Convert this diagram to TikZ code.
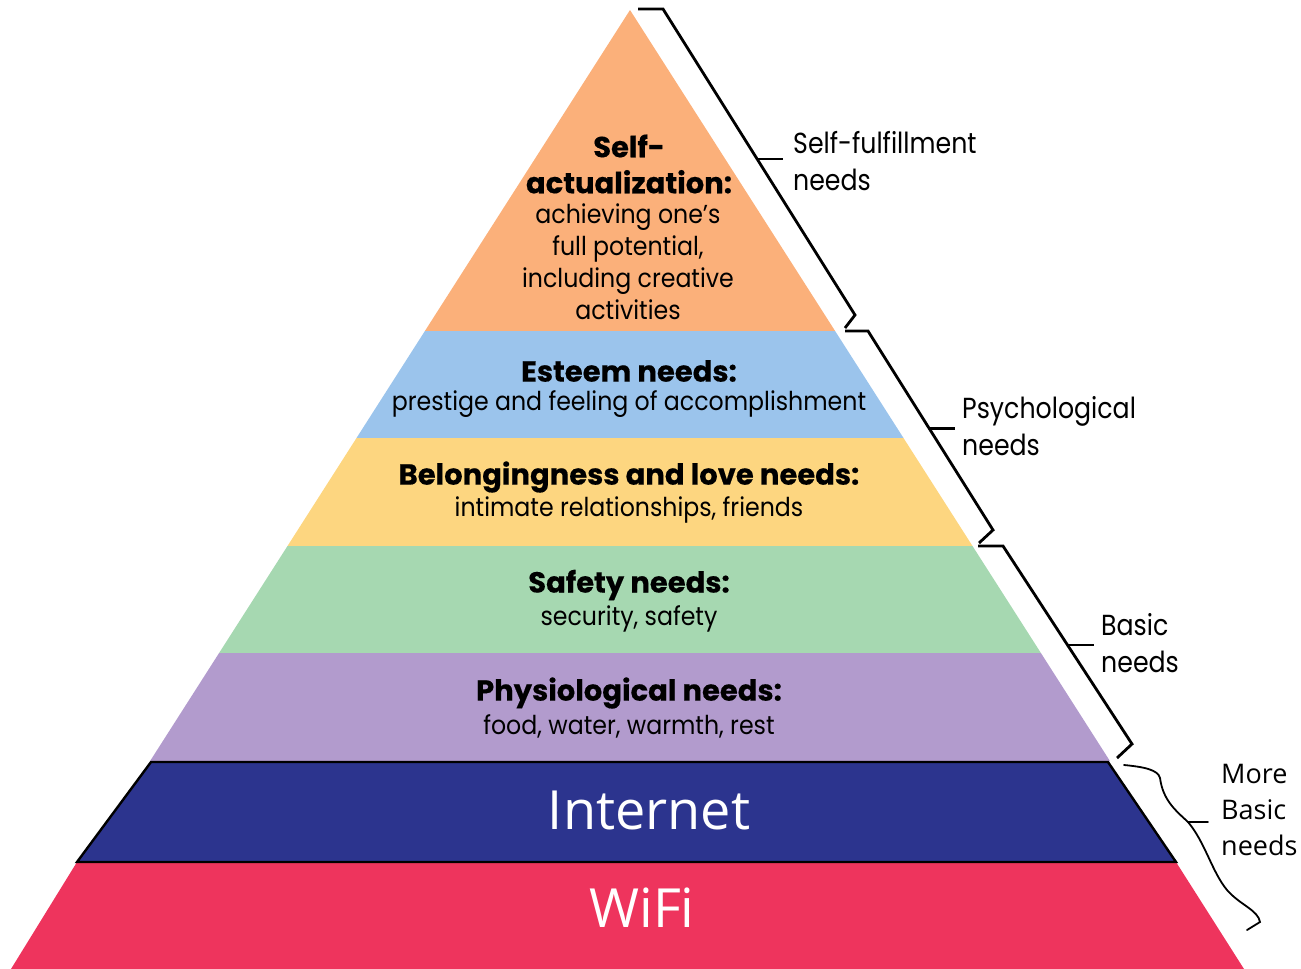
\documentclass[tikz,border=0pt]{standalone}
\usepackage{fontspec}
\newfontfamily\pyrfont[FakeStretch=0.91]{Poppins}
\newfontfamily\pyrhead[BoldFeatures={FakeBold=0.4}]{Poppins}
\newfontfamily\tagfont[FakeStretch=0.87]{Poppins}
\newfontfamily\netfont{Open Sans}
\definecolor{cSelf}{RGB}{251,176,122}
\definecolor{cEsteem}{RGB}{155,196,236}
\definecolor{cLove}{RGB}{253,214,128}
\definecolor{cSafety}{RGB}{166,216,177}
\definecolor{cPhys}{RGB}{178,155,205}
\definecolor{cNet}{RGB}{44,52,142}
\definecolor{cWifi}{RGB}{238,52,93}
\tikzset{
  head/.style={inner sep=0pt, align=center, font=\pyrhead\bfseries\fontsize{29}{36}\selectfont},
  desc/.style={inner sep=0pt, align=center, font=\pyrfont\fontsize{26}{32}\selectfont},
  tag/.style={inner sep=0pt, anchor=west, align=left, font=\tagfont\fontsize{29}{37}\selectfont},
  band/.style={inner sep=0pt, text=white, font=\netfont\fontsize{54}{60}\selectfont},
  brace/.style={draw=black, line width=2.8pt, line join=miter},
  curly/.style={draw=black, line width=1.8pt, line cap=round},
}
\begin{document}
\begin{tikzpicture}[x=1pt, y=-1pt]
\useasboundingbox (0,0) rectangle (1301,969);
% pyramid layers
\fill[cSelf]   (630,10) -- (835.1,331) -- (424.9,331) -- cycle;
\fill[cEsteem] (424.9,331) -- (835.1,331) -- (903.5,438) -- (356.5,438) -- cycle;
\fill[cLove]   (356.5,438) -- (903.5,438) -- (972.5,546) -- (287.5,546) -- cycle;
\fill[cSafety] (287.5,546) -- (972.5,546) -- (1040.9,653) -- (219.1,653) -- cycle;
\fill[cPhys]   (219.1,653) -- (1040.9,653) -- (1109.9,761) -- (150.1,761) -- cycle;
% added base layers
\fill[cWifi] (77,862) -- (1176,862) -- (1244,969) -- (11,969) -- cycle;
\filldraw[fill=cNet, draw=black, line width=2.4pt] (151,762) -- (1108,762) -- (1176,862) -- (77,862) -- cycle;

% layer texts
\node[head] (saH) at (629,164) {Self-\\actualization:};
\node[desc] (saD) at (628,262) {achieving one’s\\full potential,\\including creative\\activities};
\node[head] (esH) at (629,371) {Esteem needs:};
\node[desc] (esD) at (629,404) {prestige and feeling of accomplishment};
\node[head] (loH) at (629,477) {Belongingness and love needs:};
\node[desc] (loD) at (629,510) {intimate relationships, friends};
\node[head] (saf) at (629,585) {Safety needs:};
\node[desc] (safD) at (629,619) {security, safety};
\node[head] (phH) at (629,693) {Physiological needs:};
\node[desc] (phD) at (629,726) {food, water, warmth, rest};
\node[band] (net) at (649,810) {Internet};
\node[band] (wifi) at (642,908) {WiFi};

% braces
\draw[brace] (638,9) -- (663,9) -- coordinate[pos=0.49] (b1) (855,315) -- (845,328);
\draw[brace] (b1) -- ++(26,0) coordinate (b1e);
\draw[brace] (845,331) -- (868,331) -- coordinate[pos=0.49] (b2) (993,530) -- (979,543);
\draw[brace] (b2) -- ++(26,0) coordinate (b2e);
\draw[brace] (978,546) -- (1003,546) -- coordinate[pos=0.5] (b3) (1132,744) -- (1117,758);
\draw[brace] (b3) -- ++(26,0) coordinate (b3e);
\draw[curly] (1124,765) .. controls (1145,767) and (1158,770) .. (1160,778)
  .. controls (1163,800) and (1175,810) .. (1188,822) coordinate (b4)
  .. controls (1205,842) and (1212,872) .. (1227,890)
  .. controls (1240,905) and (1258,910) .. (1260,922) -- (1247,930);
\draw[curly] (b4) -- ++(20,0) coordinate (b4e);

% brace labels
\node[tag] (t1) at (793,161) {Self-fulfillment\\needs};
\node[tag] (t2) at (962,426) {Psychological\\needs};
\node[tag] (t3) at (1101,643) {Basic\\needs};
\node[inner sep=0pt, anchor=west, align=left, font=\netfont\fontsize{27}{36}\selectfont] (t4) at (1221,810) {More\\Basic\\needs};
\end{tikzpicture}
\end{document}
